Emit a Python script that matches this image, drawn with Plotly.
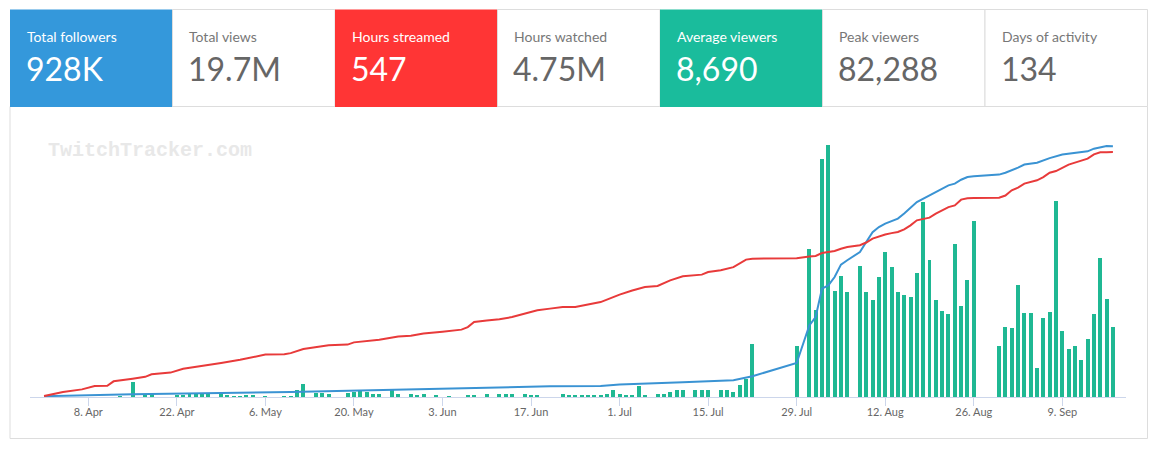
import plotly.graph_objects as go

# ---------------- data ----------------
tile_labels = ["Total followers", "Total views", "Hours streamed", "Hours watched",
               "Average viewers", "Peak viewers", "Days of activity"]
tile_values = ["928K", "19.7M", "547", "4.75M", "8,690", "82,288", "134"]
tile_colors = ["#3498db", None, "#ff3535", None, "#1abc9c", None, None]

tick_dates = ["2019-04-08", "2019-04-22", "2019-05-06", "2019-05-20", "2019-06-03", "2019-06-17",
              "2019-07-01", "2019-07-15", "2019-07-29", "2019-08-12", "2019-08-26", "2019-09-09"]
tick_labels = ["8. Apr", "22. Apr", "6. May", "20. May", "3. Jun", "17. Jun",
               "1. Jul", "15. Jul", "29. Jul", "12. Aug", "26. Aug", "9. Sep"]

# average viewers per day (thousands)
bar_dates = ["2019-04-13", "2019-04-15", "2019-04-17", "2019-04-18", "2019-04-22", "2019-04-23",
             "2019-04-24", "2019-04-25", "2019-04-26", "2019-04-27", "2019-04-29", "2019-04-30",
             "2019-05-01", "2019-05-02", "2019-05-03", "2019-05-04", "2019-05-06", "2019-05-09",
             "2019-05-10", "2019-05-11", "2019-05-12", "2019-05-14", "2019-05-15", "2019-05-16",
             "2019-05-19", "2019-05-20", "2019-05-21", "2019-05-22", "2019-05-23", "2019-05-24",
             "2019-05-26", "2019-05-27", "2019-05-29", "2019-05-30", "2019-05-31", "2019-06-02",
             "2019-06-04", "2019-06-07", "2019-06-08", "2019-06-10", "2019-06-12", "2019-06-13",
             "2019-06-14", "2019-06-16", "2019-06-17", "2019-06-18", "2019-06-22", "2019-06-23",
             "2019-06-24", "2019-06-25", "2019-06-26", "2019-06-27", "2019-06-28", "2019-06-29",
             "2019-06-30", "2019-07-01", "2019-07-02", "2019-07-03", "2019-07-04", "2019-07-05",
             "2019-07-07", "2019-07-08", "2019-07-09", "2019-07-10", "2019-07-11", "2019-07-13",
             "2019-07-14", "2019-07-15", "2019-07-17", "2019-07-18", "2019-07-19", "2019-07-20",
             "2019-07-21", "2019-07-22", "2019-07-29", "2019-07-31", "2019-08-01", "2019-08-02",
             "2019-08-03", "2019-08-04", "2019-08-05", "2019-08-06", "2019-08-08", "2019-08-09",
             "2019-08-10", "2019-08-11", "2019-08-12", "2019-08-13", "2019-08-14", "2019-08-15",
             "2019-08-16", "2019-08-17", "2019-08-18", "2019-08-19", "2019-08-20", "2019-08-21",
             "2019-08-22", "2019-08-23", "2019-08-24", "2019-08-25", "2019-08-26", "2019-08-30",
             "2019-08-31", "2019-09-01", "2019-09-02", "2019-09-03", "2019-09-04", "2019-09-05",
             "2019-09-06", "2019-09-07", "2019-09-08", "2019-09-09", "2019-09-10", "2019-09-11",
             "2019-09-12", "2019-09-13", "2019-09-14", "2019-09-15", "2019-09-16", "2019-09-17"]
bar_values = [0.1, 2.2, 0.4, 0.4, 0.35, 0.35,
              0.4, 0.5, 0.4, 0.4, 0.5, 0.25,
              0.15, 0.15, 0.25, 0.25, 0.08, 0.1,
              0.15, 1.0, 1.9, 0.65, 0.6, 0.5,
              0.55, 0.7, 1.05, 0.7, 0.45, 0.5,
              1.25, 0.4, 0.5, 0.3, 0.4, 0.3,
              0.1, 0.3, 0.3, 0.4, 0.4, 0.4,
              0.4, 0.5, 0.3, 0.3, 0.4, 0.3,
              0.25, 0.25, 0.25, 0.25, 0.3, 0.5,
              1.0, 0.4, 0.3, 0.2, 1.6, 0.3,
              0.4, 0.5, 0.7, 1.1, 1.0, 1.0,
              1.1, 1.1, 1.0, 1.0, 0.7, 1.75,
              2.75, 7.9, 7.6, 22.2, 13.0, 35.7,
              37.8, 15.9, 18.1, 15.7, 19.6, 15.7,
              14.5, 18.0, 21.7, 19.5, 15.7, 15.3,
              15.0, 18.6, 29.3, 20.5, 14.5, 12.9,
              12.4, 22.9, 13.6, 17.5, 26.4, 7.6,
              10.5, 10.3, 16.8, 12.6, 12.6, 4.3,
              11.8, 12.7, 29.4, 9.9, 7.2, 7.6,
              5.5, 8.7, 12.4, 20.8, 14.7, 10.5]

# cumulative hours streamed
hours_dates = ["2019-04-01", "2019-04-04", "2019-04-07", "2019-04-09", "2019-04-11", "2019-04-12",
               "2019-04-15", "2019-04-17", "2019-04-18", "2019-04-21", "2019-04-23", "2019-04-25",
               "2019-04-27", "2019-04-29", "2019-05-02", "2019-05-04", "2019-05-06", "2019-05-09",
               "2019-05-10", "2019-05-12", "2019-05-14", "2019-05-16", "2019-05-19", "2019-05-20",
               "2019-05-24", "2019-05-27", "2019-05-29", "2019-05-31", "2019-06-03", "2019-06-06",
               "2019-06-07", "2019-06-08", "2019-06-10", "2019-06-12", "2019-06-14", "2019-06-16",
               "2019-06-18", "2019-06-20", "2019-06-22", "2019-06-24", "2019-06-28", "2019-06-30",
               "2019-07-01", "2019-07-03", "2019-07-05", "2019-07-07", "2019-07-09", "2019-07-11",
               "2019-07-14", "2019-07-15", "2019-07-17", "2019-07-19", "2019-07-21", "2019-07-22",
               "2019-07-29", "2019-07-31", "2019-08-01", "2019-08-02", "2019-08-03", "2019-08-04",
               "2019-08-05", "2019-08-06", "2019-08-08", "2019-08-09", "2019-08-10", "2019-08-11",
               "2019-08-12", "2019-08-13", "2019-08-14", "2019-08-15", "2019-08-16", "2019-08-17",
               "2019-08-18", "2019-08-19", "2019-08-20", "2019-08-21", "2019-08-22", "2019-08-23",
               "2019-08-24", "2019-08-25", "2019-08-26", "2019-08-30", "2019-08-31", "2019-09-01",
               "2019-09-02", "2019-09-03", "2019-09-04", "2019-09-05", "2019-09-06", "2019-09-07",
               "2019-09-08", "2019-09-09", "2019-09-10", "2019-09-11", "2019-09-12", "2019-09-13",
               "2019-09-14", "2019-09-15", "2019-09-16", "2019-09-17"]
hours_values = [2, 11, 17, 24.5, 25, 35,
                41, 45, 50.7, 54.5, 63, 67,
                72, 76, 83, 89, 94.7, 95.3,
                98, 107, 111.7, 115.4, 117, 122,
                128, 135, 137, 142, 146, 150.5,
                156, 167.5, 171, 173.5, 178.6, 186,
                193.6, 197.4, 201, 201, 212, 223,
                228.7, 238, 245.6, 247.9, 260.6, 269.5,
                273.3, 279, 283, 290, 306.8, 309,
                310, 314, 315, 321.6, 323, 326,
                331, 335, 339, 345, 353.7, 359,
                363, 366, 368.5, 374.5, 383.4, 394.6,
                397.5, 400.6, 409.5, 417, 424, 428,
                440.8, 443.7, 444.4, 445, 450, 461.6,
                467.6, 476.5, 480, 484, 491, 501,
                504.7, 512, 519, 523.4, 528.6, 532.3,
                542, 546.4, 546.8, 547]

# cumulative followers (thousands)
foll_dates = ["2019-04-01", "2019-04-15", "2019-05-10", "2019-05-25", "2019-06-20", "2019-06-28",
              "2019-07-01", "2019-07-11", "2019-07-19", "2019-07-22", "2019-07-29", "2019-07-31",
              "2019-08-01", "2019-08-02", "2019-08-03", "2019-08-04", "2019-08-05", "2019-08-06",
              "2019-08-08", "2019-08-09", "2019-08-10", "2019-08-11", "2019-08-12", "2019-08-14",
              "2019-08-15", "2019-08-17", "2019-08-18", "2019-08-20", "2019-08-22", "2019-08-23",
              "2019-08-24", "2019-08-25", "2019-08-26", "2019-08-30", "2019-08-31", "2019-09-02",
              "2019-09-03", "2019-09-05", "2019-09-07", "2019-09-09", "2019-09-11", "2019-09-13",
              "2019-09-14", "2019-09-15", "2019-09-16", "2019-09-17"]
foll_values = [3, 10, 18.5, 27, 39.6, 40.7,
               45.9, 54.4, 61.8, 76.6, 125.8, 265,
               296, 401, 413, 444, 490, 506,
               536.5, 573.5, 610, 629, 641.6, 660,
               678.6, 721.5, 734, 758.5, 783, 789.6,
               804, 814, 816.6, 823, 830, 848.8,
               860, 867, 884, 897, 904, 909,
               919, 925, 928.7, 928]

# ---------------- layout helpers ----------------
W, H = 1154, 449
L, R, T, B = 30, 28, 140, 52
PW, PH = W - L - R, H - T - B


def fx(px):
    return (px - L) / PW


def fy(py):
    return (H - B - py) / PH


fig = go.Figure()

fig.add_trace(go.Bar(x=bar_dates, y=bar_values, marker=dict(color="#1fb893", line=dict(width=0)),
                     width=0.63 * 86400000, yaxis="y", name="Average viewers"))
fig.add_trace(go.Scatter(x=hours_dates, y=hours_values, mode="lines",
                         line=dict(color="#e83a3a", width=2), yaxis="y3", name="Hours streamed"))
fig.add_trace(go.Scatter(x=foll_dates, y=foll_values, mode="lines",
                         line=dict(color="#3a93d3", width=2), yaxis="y2", name="Followers"))

shapes = []
annotations = []

# chart box
shapes.append(dict(type="rect", xref="paper", yref="paper", x0=fx(10), x1=fx(1147.5),
                   y0=fy(438.5), y1=fy(106.5), line=dict(color="#dddddd", width=1),
                   fillcolor="rgba(0,0,0,0)", layer="below"))

# header tiles
tile_w = (1147.5 - 10) / 7
for i, (lab, val, col) in enumerate(zip(tile_labels, tile_values, tile_colors)):
    x0 = 10 + i * tile_w
    x1 = x0 + tile_w
    if col:
        shapes.append(dict(type="rect", xref="paper", yref="paper", x0=fx(x0), x1=fx(x1),
                           y0=fy(107), y1=fy(9.5), line=dict(width=0), fillcolor=col))
        lc, vc = "#ffffff", "#ffffff"
    else:
        shapes.append(dict(type="rect", xref="paper", yref="paper", x0=fx(x0), x1=fx(x1),
                           y0=fy(106.5), y1=fy(9.5), line=dict(color="#dddddd", width=1),
                           fillcolor="#ffffff"))
        lc, vc = "#777777", "#666666"
    annotations.append(dict(xref="paper", yref="paper", x=fx(x0 + 14.5), y=fy(36), text=lab,
                            showarrow=False, xanchor="left", yanchor="middle",
                            font=dict(family="Lato", size=14, color=lc)))
    annotations.append(dict(xref="paper", yref="paper", x=fx(x0 + 13.5), y=fy(68.5), text=val,
                            showarrow=False, xanchor="left", yanchor="middle",
                            font=dict(family="Lato", size=32, color=vc)))

# watermark
annotations.append(dict(xref="paper", yref="paper", x=fx(46), y=fy(150), text="<b>TwitchTracker.com</b>",
                        showarrow=False, xanchor="left", yanchor="middle",
                        font=dict(family="Liberation Mono", size=20, color="#e8e8e8")))

fig.update_layout(
    width=W, height=H, margin=dict(l=L, r=R, t=T, b=B, pad=0),
    paper_bgcolor="#ffffff", plot_bgcolor="#ffffff",
    showlegend=False, bargap=0,
    shapes=shapes, annotations=annotations,
    xaxis=dict(type="date", range=["2019-03-29 18:46", "2019-09-19 01:40"],
               tickvals=tick_dates, ticktext=tick_labels, showgrid=False, zeroline=False,
               showline=True, linecolor="#ccd6eb", linewidth=1,
               ticks="outside", ticklen=8, tickcolor="#ccd6eb", ticklabelstandoff=-3,
               tickfont=dict(family="Lato", size=11, color="#666666")),
    yaxis=dict(range=[0, 38.55], visible=False, fixedrange=True),
    yaxis2=dict(range=[0, 951], visible=False, overlaying="y"),
    yaxis3=dict(range=[0, 574], visible=False, overlaying="y"),
)

fig.write_html("out.html", config={"displayModeBar": False},
               post_script="document.body.style.margin='0';")
